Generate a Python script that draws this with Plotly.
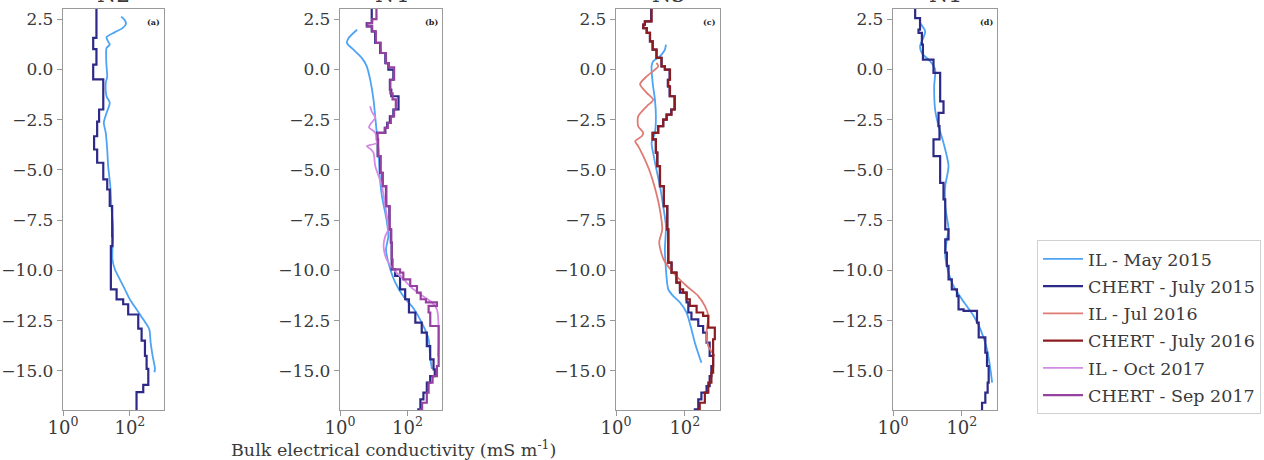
import plotly.graph_objects as go

W, H = 1264, 460

# ---------------- data (depth in m, conductivity in mS/m) ----------------
panel_titles = ["N2", "N4", "N3", "N1"]
panel_tags = ["(a)", "(b)", "(c)", "(d)"]
series_names = ["IL - May 2015", "CHERT - July 2015", "IL - Jul 2016",
                "CHERT - July 2016", "IL - Oct 2017", "CHERT - Sep 2017"]
y_tick_vals = [2.5, 0.0, -2.5, -5.0, -7.5, -10.0, -12.5, -15.0]
x_tick_vals = [1, 100]
x_tick_text = ["10<sup>0</sup>", "10<sup>2</sup>"]

# N2
n2_il15_depth = [2.62, 2.45, 2.25, 2.05, 1.85, 1.6, 1.4, 1.23, 1.06, 0.6, 0.15, -0.35, -0.68, -1.34,
                 -1.67, -2.17, -2.66, -3.16, -3.99, -4.82, -5.81, -6.81, -7.96, -9.45, -9.95, -10.45,
                 -10.95, -11.45, -11.94, -12.44, -12.93, -13.6, -14.26, -14.9, -15.07]
n2_il15_val = [55, 70, 76, 60, 36, 20, 22, 25, 20, 19.5, 20, 21, 19, 20,
               25, 20, 16.6, 19, 21, 22.4, 26, 28, 31.6, 30, 35.5, 50,
               71, 100, 158, 251, 380, 417, 479, 562, 540]
n2_ch15_depth = [3.0, 1.56, 1.0, 0.23, -0.5, -2.0, -2.6, -3.33, -3.99, -4.65, -5.48, -5.98, -6.8,
                 -8.3, -8.8, -10.95, -11.45, -11.69, -12.2, -12.9, -13.5, -14.26, -14.9, -15.7,
                 -16.06, -17.0]
n2_ch15_val = [10, 8, 10, 8, 16, 12, 10.5, 8.5, 10.5, 16, 21, 25, 29.5,
               30, 27, 40, 63, 89, 178, 224, 282, 316, 355, 251,
               158, 158]

# N4
n4_il15_depth = [1.97, 1.56, 1.31, 0.98, 0.57, 0.15, -0.5, -1.5, -2.34, -3.16, -4.0, -5.15, -6.3,
                 -7.5, -8.3, -8.96, -9.6, -10.6, -11.3, -11.9, -12.6, -13.4, -14.3, -14.9]
n4_il15_val = [3.2, 1.8, 1.6, 2.5, 4.4, 6.2, 7.8, 9.8, 11, 12.3, 13.8, 14.8, 17.4,
               24, 27, 23, 27, 43, 76, 151, 263, 417, 468, 525]
n4_ch15_depth = [3.0, 2.3, 2.14, 1.89, 1.31, 0.81, 0.31, -0.02, -0.52, -1.01, -1.34, -2.0, -2.34,
                 -2.67, -2.91, -3.16, -3.49, -4.32, -5.15, -5.81, -6.81, -7.96, -8.62, -9.45,
                 -9.95, -10.28, -10.95, -11.44, -12.1, -12.6, -13.1, -13.77, -14.43, -14.93,
                 -15.26, -15.59, -16.09, -16.42, -16.92, -17.0]
n4_ch15_val = [8.7, 6.2, 8.7, 11, 15.5, 22, 27, 38, 30, 33, 54, 38, 30,
               25, 22, 12.3, 13, 15.5, 18, 23, 29, 32, 34, 34,
               43, 60, 85, 110, 170, 263, 372, 468, 589, 640,
               468, 372, 295, 240, 209, 209]
n4_il17_depth = [-1.84, -2.1, -2.4, -2.75, -2.9, -3.0, -3.16, -3.66, -3.82, -3.95, -4.15, -4.8, -5.3,
                 -5.8, -6.8, -7.96, -8.3, -8.8, -9.45, -9.95, -10.45, -10.95, -11.3, -11.6, -11.94,
                 -12.8, -13.6, -14.3]
n4_il17_val = [7.8, 8.7, 11, 7.8, 7.2, 8.7, 11, 12.3, 6.2, 7.8, 9.8, 11, 13.8,
               17.4, 21.9, 26.9, 21.9, 19.5, 24, 38, 76, 151, 295, 525, 741,
               832, 832, 800]
n4_ch17_depth = [3.0, 2.5, 2.3, 2.14, 1.89, 1.31, 0.81, 0.31, 0.1, -0.52, -1.2, -1.5, -2.0, -2.34,
                 -2.67, -2.91, -3.16, -3.49, -4.32, -5.15, -5.81, -6.81, -7.96, -8.62, -9.45,
                 -9.95, -10.12, -10.45, -10.78, -11.11, -11.44, -11.6, -11.77, -12.1, -12.77,
                 -14.76, -15.26, -15.59, -16.09, -16.59, -16.92, -17.0]
n4_ch17_val = [12, 9, 6.5, 9, 11.5, 16, 23, 28, 40, 31, 36, 45, 40, 32,
               26, 21, 13, 13.5, 16, 18.5, 23.5, 29.5, 33, 34, 36,
               60, 75, 120, 190, 245, 350, 741, 420, 470, 832,
               741, 550, 420, 372, 270, 240, 240]

# N3
n3_il15_depth = [1.23, 0.98, 0.73, 0.57, 0.40, 0.15, -0.68, -1.51, -2.34, -3.16, -3.66, -4.32, -5.0,
                 -5.81, -6.81, -7.8, -8.96, -9.95, -10.95, -11.28, -11.6, -12.1, -12.93, -13.6,
                 -14.6]
n3_il15_val = [28.2, 26.3, 21, 16.8, 12, 10.8, 11.6, 13.5, 14.4, 13.5, 10.8, 12.5, 15,
               18.9, 23.5, 28.2, 26.3, 28.2, 33, 46, 72, 112, 155, 195,
               302]
n3_ch15_depth = [3.0, 2.38, 2.22, 2.05, 1.81, 1.39, 0.98, 0.57, 0.15, -0.02, -0.52, -0.85, -1.34,
                 -2.0, -2.25, -2.5, -2.83, -3.16, -3.49, -4.15, -4.82, -5.81, -6.81, -7.96, -9.62,
                 -10.12, -10.61, -11.11, -11.6, -12.1, -12.44, -12.77, -13.1, -13.6, -14.26,
                 -14.76, -15.26, -15.76, -16.09, -16.42, -16.92, -17.0]
n3_ch15_val = [10.5, 6.9, 6.2, 7.8, 9.7, 11.6, 15, 21, 26.3, 36, 32, 36, 50,
               40, 29.5, 23.5, 16.8, 11.6, 14.4, 15.8, 18.9, 24.6, 30.8, 33, 41,
               57, 72, 112, 126, 155, 245, 339, 427, 525, 661,
               589, 525, 427, 302, 245, 195, 195]
n3_il16_depth = [0.32, 0.15, -0.02, -0.35, -0.74, -1.17, -1.51, -1.84, -2.34, -2.83, -3.16, -3.33,
                 -3.58, -3.82, -4.32, -5.0, -5.81, -6.81, -7.96, -8.62, -9.45, -10.12, -10.78,
                 -11.28, -11.77, -12.27, -13.1, -13.77, -14.26]
n3_il16_val = [15, 16.8, 13.5, 7.8, 5, 7.8, 12, 7.8, 4.4, 4.4, 6.2, 5.6,
               3.6, 4.4, 6.2, 9.2, 13, 18, 22, 18, 24, 46, 112,
               245, 380, 479, 427, 479, 741]
n3_ch16_depth = [3.0, 2.38, 2.22, 2.05, 1.81, 1.39, 0.98, 0.57, 0.15, -0.02, -0.52, -0.85, -1.34,
                 -2.0, -2.25, -2.5, -2.83, -3.16, -3.49, -4.15, -4.82, -5.81, -6.81, -7.96, -9.62,
                 -10.12, -10.61, -10.95, -11.11, -11.44, -11.77, -12.1, -12.27, -12.85, -13.43,
                 -15.09, -15.59, -16.09, -16.59, -16.92, -17.0]
n3_ch16_val = [10.8, 6.9, 6.2, 7.8, 9.7, 11.6, 15, 21, 26.3, 37, 33, 37, 51,
               41, 29.5, 23.5, 16.8, 11.6, 14.4, 15.8, 18.9, 24.6, 30.8, 33, 41,
               57, 72, 89, 112, 139, 219, 339, 479, 741, 661,
               589, 479, 380, 270, 245, 245]

# N1
n1_il15_depth = [2.3, 1.9, 1.56, 1.15, 0.8, 0.4, 0.0, -0.84, -2.0, -2.83, -3.66, -4.82, -5.8, -6.8,
                 -7.96, -8.46, -9.28, -10.12, -10.78, -11.44, -12.27, -12.93, -13.93, -14.93,
                 -15.59]
n1_il15_val = [6.1, 8.6, 7.6, 6.1, 6.9, 12, 16.7, 15.7, 16.7, 21, 29.3, 41, 32.9, 32.9,
               41, 36.7, 32.9, 41, 57, 100, 220, 345, 537, 675,
               755]
n1_ch15_depth = [3.0, 2.55, 1.97, 1.81, 1.23, 0.48, -0.18, -1.6, -2.17, -2.83, -3.49, -4.32, -5.65,
                 -6.47, -7.96, -8.46, -9.12, -9.78, -10.45, -10.95, -11.28, -11.94, -12.02,
                 -12.6, -13.34, -14.1, -14.76, -15.59, -16.09, -16.59, -17.0]
n1_ch15_val = [4.4, 6.1, 5.5, 6.9, 7.4, 15, 23.4, 29.3, 21, 22.4, 15, 23.4, 29.3,
               32.9, 41, 32.9, 36.7, 41, 51, 72, 80, 112, 275,
               308, 480, 537, 600, 560, 480, 385, 385]

# ---------------- styling ----------------
FONT = "DejaVu Serif"
TXT = "#3a3a3a"
SPINE = "#9a9a9a"
colors = {
    "IL - May 2015": "#4da3f5",
    "CHERT - July 2015": "#2c2a86",
    "IL - Jul 2016": "#df7b73",
    "CHERT - July 2016": "#8b1c1f",
    "IL - Oct 2017": "#d48be4",
    "CHERT - Sep 2017": "#95419f",
}
widths = {"IL - May 2015": 1.8, "CHERT - July 2015": 2.2, "IL - Jul 2016": 1.8,
          "CHERT - July 2016": 2.2, "IL - Oct 2017": 1.8, "CHERT - Sep 2017": 2.2}

panels = [
    [("IL - May 2015", n2_il15_val, n2_il15_depth),
     ("CHERT - July 2015", n2_ch15_val, n2_ch15_depth)],
    [("IL - May 2015", n4_il15_val, n4_il15_depth),
     ("CHERT - July 2015", n4_ch15_val, n4_ch15_depth),
     ("IL - Oct 2017", n4_il17_val, n4_il17_depth),
     ("CHERT - Sep 2017", n4_ch17_val, n4_ch17_depth)],
    [("IL - May 2015", n3_il15_val, n3_il15_depth),
     ("CHERT - July 2015", n3_ch15_val, n3_ch15_depth),
     ("IL - Jul 2016", n3_il16_val, n3_il16_depth),
     ("CHERT - July 2016", n3_ch16_val, n3_ch16_depth)],
    [("IL - May 2015", n1_il15_val, n1_il15_depth),
     ("CHERT - July 2015", n1_ch15_val, n1_ch15_depth)],
]

panel_px = [(63, 164), (340, 442), (616, 720), (893, 997)]
top_px, bot_px = 9, 410

fig = go.Figure()
shown = set()
for i, traces in enumerate(panels):
    sfx = "" if i == 0 else str(i + 1)
    for name, vals, depth in traces:
        is_chert = name.startswith("CHERT")
        fig.add_trace(go.Scatter(
            x=vals, y=depth, mode="lines", name=name, legendgroup=name,
            line=dict(color=colors[name], width=widths[name],
                      shape="vh" if is_chert else "spline",
                      **({} if is_chert else {"smoothing": 0.7})),
            xaxis="x" + sfx, yaxis="y" + sfx,
            showlegend=name not in shown,
            legendrank=series_names.index(name) + 1,
        ))
        shown.add(name)

layout = dict(
    width=W, height=H, margin=dict(l=0, r=0, t=0, b=0),
    paper_bgcolor="white", plot_bgcolor="white",
    font=dict(family=FONT, size=17, color=TXT),
    showlegend=True,
    legend=dict(x=1037 / W, y=1 - 240 / H, xanchor="left", yanchor="top",
                bordercolor="#d0d0d0", borderwidth=1, bgcolor="white",
                font=dict(family=FONT, size=17.5, color=TXT),
                tracegroupgap=1.5, itemwidth=40),
)
annotations = []
for i, (l, r) in enumerate(panel_px):
    sfx = "" if i == 0 else str(i + 1)
    layout["xaxis" + sfx] = dict(
        domain=[l / W, r / W], anchor="y" + sfx, type="log", range=[0, 3.02],
        tickvals=x_tick_vals, ticktext=x_tick_text, ticks="outside", ticklen=5,
        tickcolor=SPINE, showline=True, linecolor=SPINE, linewidth=1.3, mirror=True,
        showgrid=False, zeroline=False, automargin=False, ticklabelstandoff=-4,
        tickfont=dict(family=FONT, size=18, color=TXT),
    )
    layout["yaxis" + sfx] = dict(
        domain=[1 - bot_px / H, 1 - top_px / H], anchor="x" + sfx, range=[-16.95, 3.0],
        tickvals=y_tick_vals, tickformat=".1f", ticks="outside", ticklen=5,
        tickcolor=SPINE, showline=True, linecolor=SPINE, linewidth=1.3, mirror=True,
        showgrid=False, zeroline=False, automargin=False,
        tickfont=dict(family=FONT, size=17, color=TXT),
    )
    annotations.append(dict(
        text=panel_titles[i], xref="paper", yref="paper", x=(l + r) / 2 / W,
        y=1 - 9 / H, xanchor="center", yanchor="bottom", showarrow=False,
        font=dict(family=FONT, size=22, color=TXT)))
    annotations.append(dict(
        text="<b>" + panel_tags[i] + "</b>", xref="paper", yref="paper", x=(r - 2) / W,
        y=1 - 22 / H, xanchor="right", yanchor="middle", showarrow=False,
        font=dict(family=FONT, size=8, color="#222")))
annotations.append(dict(
    text="Bulk electrical conductivity (mS m<sup>-1</sup>)", xref="paper", yref="paper",
    x=393 / W, y=1 - 449 / H, xanchor="center", yanchor="middle", showarrow=False,
    font=dict(family=FONT, size=17.5, color=TXT)))
layout["annotations"] = annotations
fig.update_layout(**layout)

fig.write_html("out.html")
